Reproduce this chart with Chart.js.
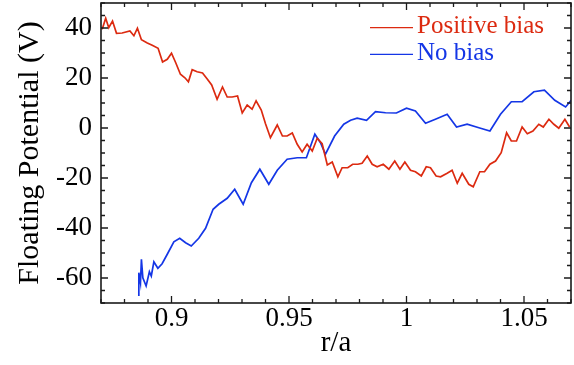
<!DOCTYPE html>
<html><head><meta charset="utf-8">
<script src="https://cdn.jsdelivr.net/npm/chart.js@4"></script>
<style>html,body{margin:0;padding:0;background:#fff}canvas{display:block}</style>
</head><body>
<canvas id="c" width="574" height="365"></canvas>
<script>
// ---- data ----
const positiveBiasR = [0.8705,0.872,0.8733,0.8749,0.8766,0.879,0.8823,0.884,0.8855,0.8872,0.8897,0.8918,0.8943,0.8962,0.8982,0.9,0.9018,0.9038,0.9057,0.9072,0.9088,0.9109,0.9132,0.9152,0.9171,0.9194,0.9217,0.9237,0.9258,0.9281,0.9301,0.9322,0.9343,0.936,0.9382,0.94,0.9421,0.945,0.9472,0.9492,0.9514,0.9535,0.9556,0.9577,0.9599,0.962,0.9641,0.9663,0.9684,0.9708,0.9726,0.975,0.9771,0.9793,0.9811,0.9833,0.9854,0.9875,0.9901,0.9925,0.995,0.9972,0.9993,1.0017,1.0038,1.0063,1.0084,1.0102,1.0126,1.0145,1.0173,1.0194,1.0216,1.0237,1.0265,1.0284,1.0312,1.0332,1.0355,1.0379,1.0403,1.0426,1.0446,1.0468,1.0492,1.0514,1.0538,1.0563,1.0582,1.0606,1.0627,1.0648,1.0674,1.0694];
const positiveBiasV = [39.5,43.9,40.1,42.8,37.9,38,38.8,36.9,39.9,35.3,34,33.1,31.9,26.4,27.5,29.9,26.1,21.5,20.1,18.5,23.3,22.5,22,19.6,17.2,11.5,16.4,12.4,12.4,12.8,6,9.2,7.5,10.9,7.2,1.7,-3.9,1.2,-3.2,-3.2,-2,-6.5,-9.6,-6.5,-9.2,-4.1,-6.3,-14.8,-13.6,-19.5,-15.9,-15.9,-14.5,-14.5,-14.1,-11.2,-14.5,-15.5,-14.5,-16.5,-13.2,-16.5,-13.6,-16.9,-17.5,-19.2,-15.5,-15.9,-19.2,-19.5,-18.1,-16.9,-22.1,-18.1,-22.5,-23.5,-17.5,-17.5,-14.5,-13.2,-9.9,-1.9,-5.2,-5.2,0.4,-2.3,-1.2,1.5,0.4,3.5,1.5,-0.1,3.5,0.4];
const noBiasR = [0.8861,0.8861,0.8868,0.8872,0.8878,0.8892,0.8906,0.8914,0.8925,0.8942,0.896,0.8982,0.901,0.9035,0.906,0.9084,0.9116,0.9145,0.9177,0.9201,0.9237,0.9269,0.9305,0.934,0.9376,0.9414,0.945,0.9492,0.9535,0.9574,0.961,0.9634,0.9655,0.9694,0.9733,0.9762,0.979,0.983,0.9868,0.9911,0.9957,1.0,1.0038,1.0081,1.0123,1.0173,1.0213,1.0258,1.0308,1.0355,1.04,1.0446,1.0492,1.0542,1.0587,1.0631,1.0677,1.0701];
const noBiasV = [-67.2,-57.9,-61.9,-52.5,-59.9,-63.2,-57.5,-59.2,-53.5,-56.1,-54.3,-50.5,-45.5,-44.1,-45.9,-47.2,-44.1,-40.1,-32.5,-30.5,-28.1,-24.5,-30.5,-21.9,-16.5,-22.5,-16.9,-12.5,-11.9,-11.9,-2.5,-5.9,-10.5,-3.2,1.5,3.1,3.9,3.1,6.5,6.1,6,7.9,6.8,1.9,3.5,5.5,0.4,1.5,0.1,-1.2,5.5,10.5,10.5,14.5,15.1,11.1,8.4,11.1];
const seriesLabels = ['Positive bias', 'No bias'];
const xTickValues = [0.9, 0.95, 1, 1.05];
const xTickLabels = ['0.9', '0.95', '1', '1.05'];
const yTickValues = [-60, -40, -20, 0, 20, 40];
const yTickLabels = ['-60', '-40', '-20', '0', '20', '40'];
const xAxisTitle = 'r/a';
const yAxisTitle = 'Floating Potential (V)';
const xRange = [0.87, 1.07];
const yRange = [-70, 50];
const xMinorStep = 0.01;
const yMinorStep = 5;

// ---- styles ----
const RED = '#dc2a10';
const BLUE = '#1436e6';
const SERIF = '"Liberation Serif", "Times New Roman", serif';
const AXIS = '#1a1a1a';

function pts(xs, ys) { return xs.map((v, i) => ({x: v, y: ys[i]})); }

const framePlugin = {
  id: 'frame',
  afterDatasetsDraw(chart) {
    const {ctx, chartArea: a, scales: {x, y}} = chart;
    ctx.save();
    ctx.strokeStyle = AXIS;
    ctx.lineWidth = 1.6;
    ctx.strokeRect(a.left, a.top, a.right - a.left, a.bottom - a.top);
    ctx.lineWidth = 1.3;
    ctx.beginPath();
    const nx = Math.round((xRange[1] - xRange[0]) / xMinorStep);
    for (let i = 0; i <= nx; i++) {
      const v = xRange[0] + i * xMinorStep;
      const major = xTickValues.some(t => Math.abs(t - v) < 1e-6);
      const L = major ? 7 : 4;
      const p = x.getPixelForValue(v);
      ctx.moveTo(p, a.bottom); ctx.lineTo(p, a.bottom - L);
      ctx.moveTo(p, a.top); ctx.lineTo(p, a.top + L);
    }
    const ny = Math.round((yRange[1] - yRange[0]) / yMinorStep);
    for (let i = 0; i <= ny; i++) {
      const v = yRange[0] + i * yMinorStep;
      const major = yTickValues.some(t => Math.abs(t - v) < 1e-6);
      const L = major ? 7 : 4;
      const p = y.getPixelForValue(v);
      ctx.moveTo(a.left, p); ctx.lineTo(a.left + L, p);
      ctx.moveTo(a.right, p); ctx.lineTo(a.right - L, p);
    }
    ctx.stroke();
    ctx.restore();
  }
};

const legendPlugin = {
  id: 'lineLegend',
  afterDraw(chart) {
    const ctx = chart.ctx;
    ctx.save();
    chart.data.datasets.forEach((ds, i) => {
      const yy = 27.7 + i * 26.6;
      ctx.strokeStyle = ds.borderColor;
      ctx.lineWidth = 1.2;
      ctx.beginPath();
      ctx.moveTo(370, yy); ctx.lineTo(413, yy);
      ctx.stroke();
      ctx.fillStyle = ds.borderColor;
      ctx.font = '25px ' + SERIF;
      ctx.textBaseline = 'alphabetic';
      ctx.textAlign = 'left';
      ctx.fillText(ds.label, 417, yy + 5.6);
    });
    ctx.restore();
  }
};

new Chart(document.getElementById('c'), {
  type: 'line',
  data: {
    datasets: [
      {label: seriesLabels[0], data: pts(positiveBiasR, positiveBiasV), borderColor: RED, backgroundColor: RED, borderWidth: 1.7, pointRadius: 0, tension: 0, fill: false},
      {label: seriesLabels[1], data: pts(noBiasR, noBiasV), borderColor: BLUE, backgroundColor: BLUE, borderWidth: 1.7, pointRadius: 0, tension: 0, fill: false}
    ]
  },
  options: {
    responsive: false,
    animation: false,
    devicePixelRatio: 1,
    layout: {padding: {top: 3, right: 3, left: 0, bottom: 0}},
    plugins: {legend: {display: false}, tooltip: {enabled: false}},
    scales: {
      x: {
        type: 'linear', min: xRange[0], max: xRange[1],
        grid: {display: false, drawTicks: false},
        border: {display: false},
        afterBuildTicks: s => { s.ticks = xTickValues.map(v => ({value: v})); },
        afterFit: s => { s.height = 62; s.paddingLeft = 0; s.paddingRight = 0; s.paddingTop = 0; s.paddingBottom = 0; },
        ticks: {
          padding: 2, maxRotation: 0, autoSkip: false, color: '#000',
          font: {family: SERIF, size: 27, lineHeight: 1},
          callback: v => { const i = xTickValues.findIndex(t => Math.abs(t - v) < 1e-9); return i >= 0 ? xTickLabels[i] : ''; }
        },
        title: {display: true, text: xAxisTitle, color: '#000', font: {family: SERIF, size: 29, lineHeight: 1.2}, padding: {top: 0, bottom: 4}}
      },
      y: {
        type: 'linear', min: yRange[0], max: yRange[1],
        grid: {display: false, drawTicks: false},
        border: {display: false},
        afterBuildTicks: s => { s.ticks = yTickValues.map(v => ({value: v})); },
        afterFit: s => { s.width = 101; s.paddingLeft = 0; s.paddingRight = 0; s.paddingTop = 0; s.paddingBottom = 0; },
        ticks: {
          padding: 9, autoSkip: false, color: '#000',
          font: {family: SERIF, size: 27, lineHeight: 1},
          callback: v => { const i = yTickValues.findIndex(t => Math.abs(t - v) < 1e-9); return i >= 0 ? yTickLabels[i] : ''; }
        },
        title: {display: true, text: yAxisTitle, color: '#000', font: {family: SERIF, size: 30, lineHeight: 1.2}, padding: {top: 12, bottom: 0}}
      }
    }
  },
  plugins: [framePlugin, legendPlugin]
});
</script>
</body></html>
